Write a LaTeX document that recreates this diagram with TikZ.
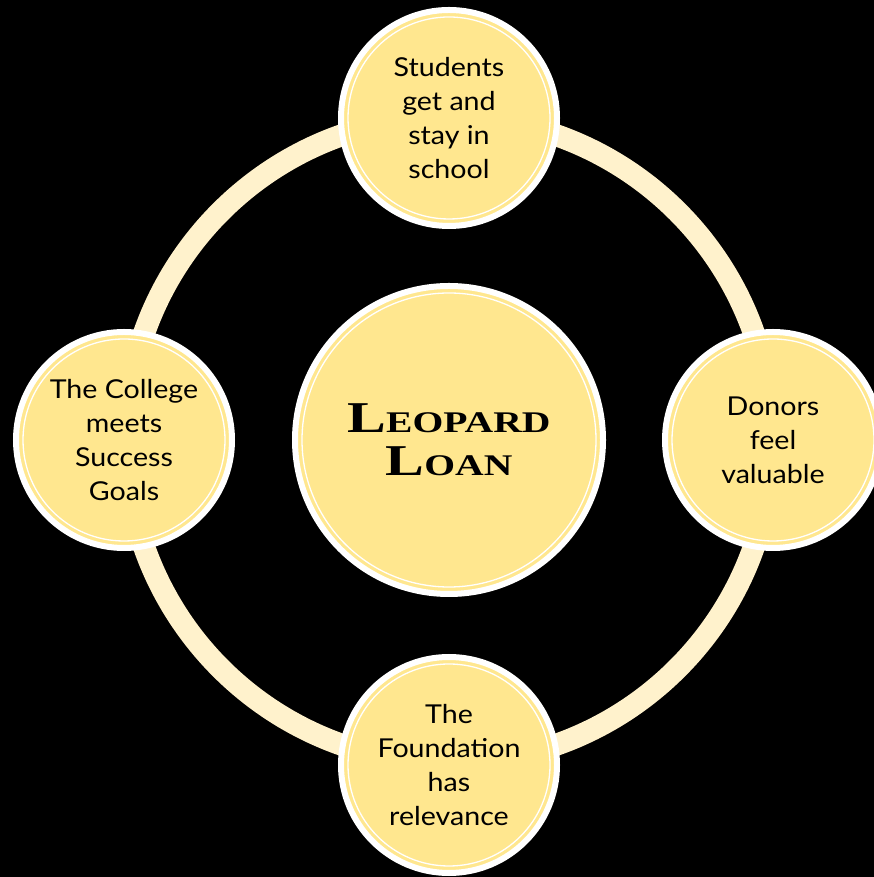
\documentclass[tikz,border=0pt]{standalone}
\usepackage{fontspec}
\setmainfont[FakeStretch=1.1]{Lato}
\newfontfamily\copper[FakeStretch=1.32]{Liberation Serif}
\newcommand\smallC{\fontsize{30}{43}\selectfont}
\definecolor{fillY}{HTML}{FFE78F}
\definecolor{ringY}{HTML}{FFF2CC}
\tikzset{
  bubble/.style={circle, fill=fillY, draw=white, line width=6pt, inner sep=0pt, outer sep=0pt,
    align=center, font=\fontsize{26}{34}\selectfont, text=black},
  ringline/.style={draw=ringY, line width=22pt},
  innerline/.style={draw=white, line width=1.3pt}
}
\begin{document}
\begin{tikzpicture}[x=1pt,y=1pt]
\useasboundingbox[fill=black] (0,0) rectangle (874,877);
\coordinate (c) at (449,437);
\draw[ringline] (c) circle (323);
\node[bubble, minimum size=308pt, font=\copper\bfseries\fontsize{44}{43}\selectfont] (center) at (c) {L{\smallC EOPARD}\\L{\smallC OAN}};
\node[bubble, minimum size=216pt] (top) at (449,759) {Students\\get and\\stay in\\school};
\node[bubble, minimum size=216pt] (left) at (124,437) {The College\\meets\\Success\\Goals};
\node[bubble, minimum size=216pt] (right) at (773,437) {Donors\\feel\\valuable};
\node[bubble, minimum size=216pt] (bottom) at (449,112) {The\\Foundation\\has\\relevance};
\draw[innerline] (center.center) circle (147);
\foreach \n in {top,left,right,bottom}{\draw[innerline] (\n.center) circle (101);}
\end{tikzpicture}
\end{document}
